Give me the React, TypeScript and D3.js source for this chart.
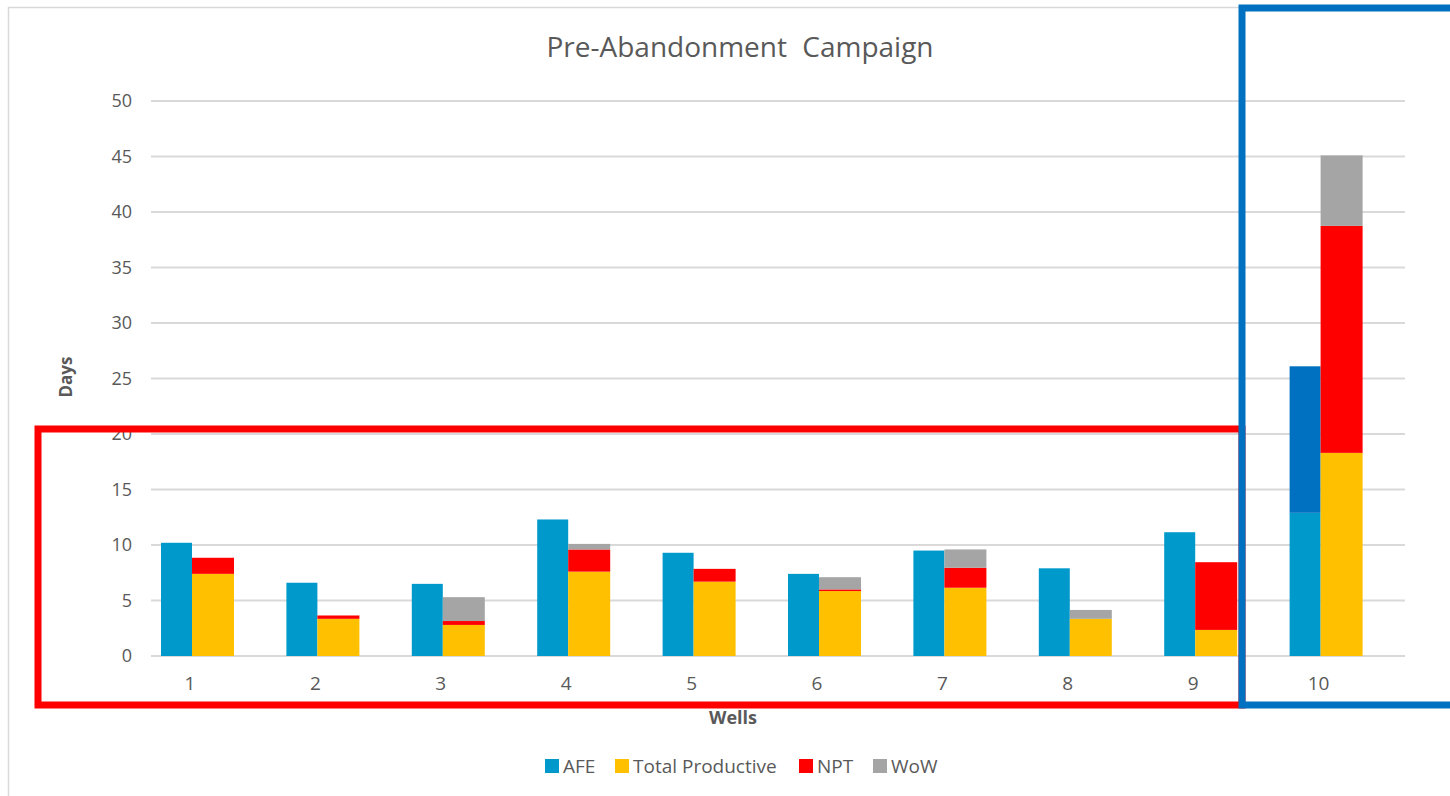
import React from 'react';
import * as d3 from 'd3';

const wells = ['1', '2', '3', '4', '5', '6', '7', '8', '9', '10'];
const afe = [10.2, 6.6, 6.5, 12.3, 9.3, 7.4, 9.5, 7.9, 11.15, 12.9];
const afeExtension = [0, 0, 0, 0, 0, 0, 0, 0, 0, 13.2];
const totalProductive = [7.4, 3.35, 2.8, 7.6, 6.7, 5.85, 6.15, 3.35, 2.35, 18.3];
const npt = [1.45, 0.3, 0.35, 2.0, 1.15, 0.15, 1.8, 0, 6.1, 20.45];
const wow = [0, 0, 2.15, 0.5, 0, 1.1, 1.65, 0.8, 0, 6.35];
const yTicks = [0, 5, 10, 15, 20, 25, 30, 35, 40, 45, 50];
const legendItems = ['AFE', 'Total Productive', 'NPT', 'WoW'];

const W = 1450;
const H = 796;
const FONT = '"Open Sans", "Liberation Sans", sans-serif';
const TEXT = '#595959';
const GRID = '#d9d9d9';

const colors: Record<string, string> = {
  AFE: '#0099cc',
  AFEExt: '#0070c0',
  'Total Productive': '#ffc000',
  NPT: '#ff0000',
  WoW: '#a5a5a5',
};

export default function App() {
  const plot = { left: 151, right: 1405, top: 101, bottom: 656 };

  const x = d3.scaleBand<string>().domain(wells).range([plot.left, plot.right]);
  const y = d3.scaleLinear().domain([0, 50]).range([plot.bottom, plot.top]);

  // offsets inside each category band (Excel layout)
  const afeOffset = 10;
  const afeWidth = 31;
  const stackOffset = 41;
  const stackWidth = 42;
  const labelOffset = 39;

  const rows = wells.map((w, i) => ({
    well: w,
    afe: afe[i],
    afeExt: afeExtension[i],
    'Total Productive': totalProductive[i],
    NPT: npt[i],
    WoW: wow[i],
  }));

  const stack = d3.stack<any>().keys(['Total Productive', 'NPT', 'WoW'])(rows);
  const afeStack = d3.stack<any>().keys(['afe', 'afeExt'])(rows);

  // legend layout
  const legendX = [545, 615, 799, 873];

  return (
    <>
      <style>{`body{margin:0}`}</style>
      <svg width={W} height={H} style={{ display: 'block', background: '#fff' }}>
        <rect x={8.5} y={7.5} width={W} height={H + 10} fill="#fff" stroke={GRID} strokeWidth={1.5} />

        <text x={740} y={57} textAnchor="middle" fontFamily={FONT} fontSize={28} fill={TEXT} wordSpacing={8}>
          Pre-Abandonment Campaign
        </text>

        {yTicks.map((t) => (
          <g key={t}>
            <line x1={plot.left} x2={plot.right} y1={y(t)} y2={y(t)} stroke={GRID} strokeWidth={2} />
            <text x={132} y={y(t)} dy="0.35em" textAnchor="end" fontFamily={FONT} fontSize={18} fill={TEXT}>
              {t}
            </text>
          </g>
        ))}

        {afeStack.map((layer) => (
          <g key={layer.key} fill={layer.key === 'afe' ? colors.AFE : colors.AFEExt}>
            {layer.map((d, i) =>
              d[1] - d[0] > 0 ? (
                <rect
                  key={i}
                  x={(x(wells[i]) as number) + afeOffset}
                  y={y(d[1])}
                  width={afeWidth}
                  height={y(d[0]) - y(d[1])}
                />
              ) : null
            )}
          </g>
        ))}

        {stack.map((layer) => (
          <g key={layer.key} fill={colors[layer.key]}>
            {layer.map((d, i) =>
              d[1] - d[0] > 0 ? (
                <rect
                  key={i}
                  x={(x(wells[i]) as number) + stackOffset}
                  y={y(d[1])}
                  width={stackWidth}
                  height={y(d[0]) - y(d[1])}
                />
              ) : null
            )}
          </g>
        ))}

        {wells.map((w) => (
          <text
            key={w}
            x={(x(w) as number) + labelOffset}
            y={690}
            textAnchor="middle"
            fontFamily={FONT}
            fontSize={19}
            fill={TEXT}
          >
            {w}
          </text>
        ))}

        <text
          transform="translate(72,377) rotate(-90)"
          textAnchor="middle"
          fontFamily={FONT}
          fontSize={17}
          fontWeight="bold"
          fill={TEXT}
        >
          Days
        </text>
        <text x={733} y={724} textAnchor="middle" fontFamily={FONT} fontSize={18} fontWeight="bold" fill={TEXT}>
          Wells
        </text>

        {legendItems.map((k, i) => (
          <g key={k} transform={`translate(${legendX[i]},759)`}>
            <rect width={14} height={14} fill={colors[k]} />
            <text x={18} y={7} dy="0.35em" fontFamily={FONT} fontSize={19} fill={TEXT}>
              {k}
            </text>
          </g>
        ))}

        {/* highlight boxes */}
        <rect x={38} y={429} width={1204} height={276} fill="none" stroke="#ff0000" strokeWidth={7} />
        <rect x={1242} y={8} width={260} height={697} fill="none" stroke="#0070c0" strokeWidth={7} />
      </svg>
    </>
  );
}
